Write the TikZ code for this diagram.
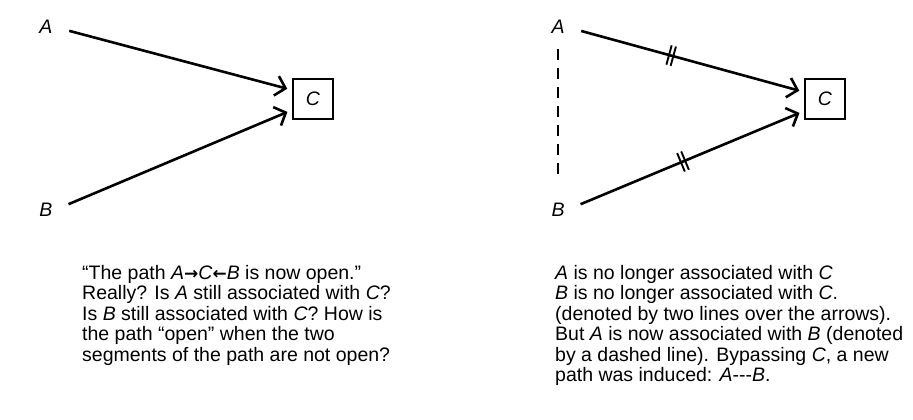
\documentclass[tikz,border=0pt]{standalone}
\usepackage{fontspec}
\setmainfont{Liberation Sans}
\newfontfamily\arrowfont{DejaVu Sans}
\usepackage{tikz}
\usetikzlibrary{positioning, arrows.meta, decorations.markings}

\newcommand{\bigsize}{\fontsize{19.5bp}{20.5bp}\selectfont}
\newcommand{\ra}{{\arrowfont\bfseries\fontsize{17bp}{17bp}\selectfont →}}
\newcommand{\la}{{\arrowfont\bfseries\fontsize{17bp}{17bp}\selectfont ←}}

\tikzset{
  var/.style={font=\bigsize\itshape, inner sep=2bp},
  box/.style={draw, line width=1.8bp, minimum size=40bp, inner sep=0pt, font=\bigsize\itshape},
  link/.style={line width=2.6bp, -{Straight Barb[length=9.5bp,width=20bp,line width=2.6bp]},
    shorten <=15bp, shorten >=5bp},
  cut/.style={postaction={decorate}, decoration={markings,
    mark=at position #1 with {\draw[-, shorten <=0pt, shorten >=0pt, line width=1.9bp]
      (-2.2bp,-10bp) -- (-2.2bp,10bp) (2.2bp,-10bp) -- (2.2bp,10bp);}}},
  assoc/.style={line width=2.6bp, dash pattern=on 11bp off 8bp},
  note/.style={anchor=north west, inner sep=0pt, align=left, font=\bigsize}
}

\begin{document}
\begin{tikzpicture}[x=1bp,y=1bp,node distance=183bp,on grid]
  \useasboundingbox (0,0) rectangle (913,419);
  % before: A -> C <- B
  \node[var] (a_1) at (46,392) {A};
  \node[var] (b_1) [below=of a_1] {B};
  \node[box] (c_1) [below right=72bp and 267bp of a_1] {C};
  % after: edges cut, A --- B
  \node[var] (a_2) [right=512bp of a_1] {A};
  \node[var] (b_2) [below=of a_2] {B};
  \node[box] (c_2) [below right=72bp and 267bp of a_2] {C};

  \draw[link] (a_1.east) -- ([yshift=9bp]c_1.west);
  \draw[link] (b_1.east) -- ([yshift=-11bp]c_1.west);
  \draw[link, cut=.44] (a_2.east) -- ([yshift=7bp]c_2.west);
  \draw[link, cut=.49] (b_2.east) -- ([yshift=-12bp]c_2.west);
  \draw[assoc, shorten <=13bp, shorten >=24bp] (a_2) -- (b_2);

  \node[note] (t_1) at (82,154) {“The path \textit{A}\ra\textit{C}\la\textit{B} is now open.”\\
    Really? Is \textit{A} still associated with \textit{C}?\\
    Is \textit{B} still associated with \textit{C}? How is\\
    the path “open” when the two\\
    segments of the path are not open?};
  \node[note] (t_2) at (555,154) {\textit{A} is no longer associated with \textit{C}\\
    \textit{B} is no longer associated with \textit{C}.\\
    (denoted by two lines over the arrows).\\
    But \textit{A} is now associated with \textit{B} (denoted\\
    by a dashed line). Bypassing \textit{C}, a new\\
    path was induced: \textit{A}-{}-{}-\textit{B}.};
\end{tikzpicture}
\end{document}
